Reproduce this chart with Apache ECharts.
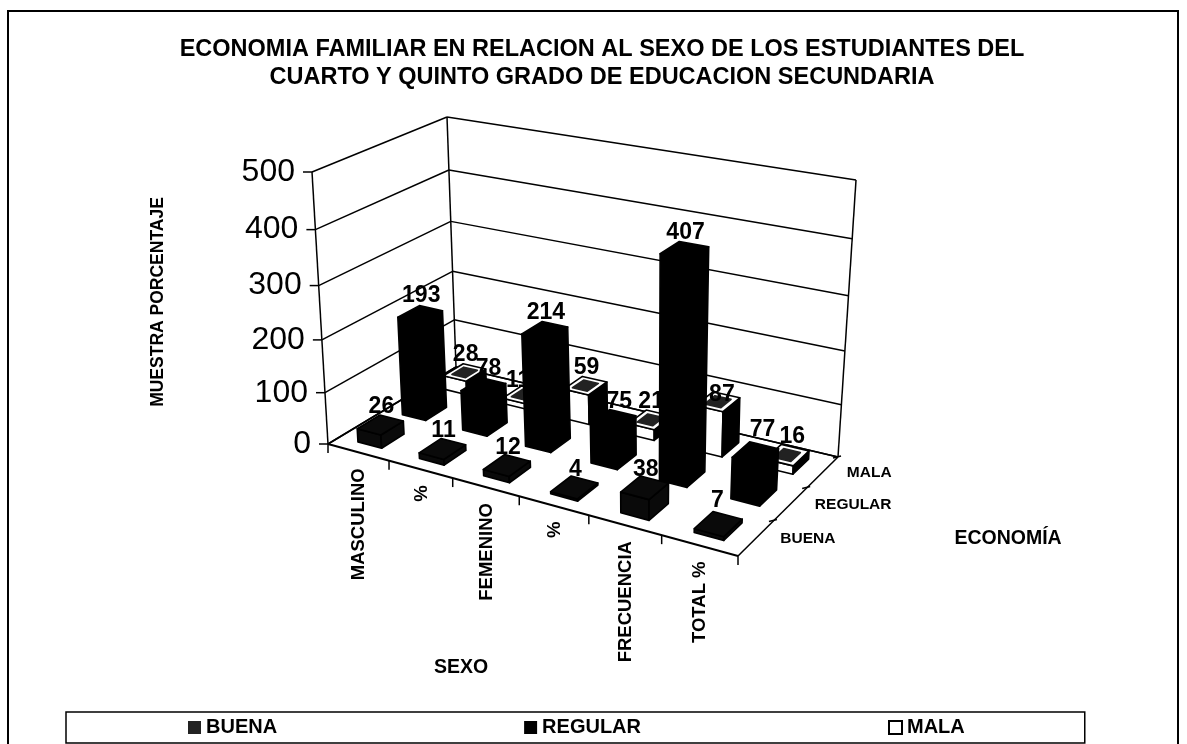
<!DOCTYPE html>
<html><head><meta charset="utf-8">
<style>html,body{margin:0;padding:0;background:#fff}#c{width:1187px;height:744px}</style>
<script src="https://cdn.jsdelivr.net/npm/echarts@6/dist/echarts.min.js"></script>
</head><body><div id="c"></div>
<script>
const categories = ['MASCULINO','%','FEMENINO','%','FRECUENCIA','TOTAL %'];
const depthNames = ['BUENA','REGULAR','MALA'];
const yTicks = [0,100,200,300,400,500];
const buena = [26,11,12,4,38,7];
const regular = [193,78,214,75,407,77];
const mala = [28,11,59,21,87,16];

// Projection of the unit box onto the page (oblique 3-D look)
const FLOOR = [[328,444],[738,556],[838,457],[456,367]];
const TOP = [[312,172],[751,257],[856,180],[447,117]];
const PERSP = 0.93, BAR_W = 0.39, BAR_D = 0.5;
const FONT = '"Liberation Sans", Arial, sans-serif';
// Small hand placement of a few data labels, by depth index and category index
const LABEL_NUDGE = {'2-4':[3,11],'1-5':[6,-5],'0-5':[-2,-5],'1-1':[4,0],'1-3':[5,0],'2-1':[-7,4],'2-5':[4,0]};

function homography(q){
  const [x0,y0]=q[0],[x1,y1]=q[1],[x2,y2]=q[2],[x3,y3]=q[3];
  const dx1=x1-x2,dx2=x3-x2,dy1=y1-y2,dy2=y3-y2,sx=x0-x1+x2-x3,sy=y0-y1+y2-y3;
  const det=dx1*dy2-dx2*dy1,g=(sx*dy2-dx2*sy)/det,h=(dx1*sy-sx*dy1)/det;
  const a=x1-x0+g*x1,b=x3-x0+h*x3,d=y1-y0+g*y1,e=y3-y0+h*y3;
  return (u,v)=>{const k=g*u+h*v+1;return [(a*u+b*v+x0)/k,(d*u+e*v+y0)/k];};
}
const hFloor=homography(FLOOR), hTop=homography(TOP);
function project(u,w,t){
  const f=hFloor(u,w),p=hTop(u,w),s=t*PERSP/(1+(PERSP-1)*t);
  return [f[0]+(p[0]-f[0])*s,f[1]+(p[1]-f[1])*s];
}
// grid pixel -> unit coordinates, so that every mark goes through the axes' scales
function unit(params,api,c,v){
  const cs=params.coordSys,pt=api.coord([c,v]);
  return {u:(pt[0]-cs.x)/cs.width,t:(cs.y+cs.height-pt[1])/cs.height,band:api.size([1,0])[0]/cs.width};
}
const line=(a,b,w)=>({type:'line',shape:{x1:a[0],y1:a[1],x2:b[0],y2:b[1]},style:{stroke:'#000',lineWidth:w||1.5}});
const quad=(pts,fill,stroke)=>({type:'polygon',shape:{points:pts},style:{fill,stroke:stroke||fill,lineWidth:1.6,lineJoin:'round'}});
const text=(s,x,y,size,o)=>Object.assign({type:'text',x,y,style:{text:s,fill:'#000',font:(o&&o.weight||'bold')+' '+size+'px '+FONT,align:o&&o.align||'center',verticalAlign:'middle'}},o&&o.rotation?{rotation:o.rotation}:{});

function renderWall(params,api){
  const val=api.value(1),{t}=unit(params,api,0,val);
  const a=project(0,0,t),b=project(0,1,t),c=project(1,1,t);
  const ch=[line(a,b),line(b,c),line(a,[a[0]-9,a[1]]),
    text(String(val),a[0]-17,a[1],32,{align:'right',weight:'normal'})];
  if(val===yTicks[yTicks.length-1]){
    ch.push(line(project(0,0,0),project(0,0,1)));
    ch.push(line(project(0,1,0),project(0,1,1)));
    ch.push(line(project(1,1,0),project(1,1,1)));
  }
  return {type:'group',children:ch};
}
function renderXAxis(params,api){
  const i=api.value(0),{u,band}=unit(params,api,i,0);
  const r=project(u+band/2,0,0),m=project(u,0,0);
  const ch=[line(r,[r[0],r[1]+9]),
    text(categories[i],m[0]+1,m[1]+16,18.5,{align:'right',rotation:Math.PI/2})];
  if(i===0){const l=project(0,0,0);ch.push(line(l,[l[0],l[1]+9]),line(l,project(1,0,0),2));}
  return {type:'group',children:ch};
}
function renderDepth(params,api){
  const j=api.value(0),w=(j+0.5)/depthNames.length;
  const e=project(1,(j+1)/depthNames.length,0),m=project(1,w,0);
  const ch=[line([e[0]-5,e[1]+1],[e[0]+3,e[1]-1]),
    text(depthNames[j],m[0]+24,m[1]+1,15.5,{align:'left'})];
  if(j===0) ch.push(line(project(1,0,0),project(1,1,0)));
  return {type:'group',children:ch};
}
function renderFloorBack(){
  return {type:'group',children:[line(project(0,0,0),project(0,1,0)),line(project(0,1,0),project(1,1,0))]};
}
function barRenderer(j,sideFill,frontFill,topFill,inner){
  return function(params,api){
    const i=api.value(0),val=api.value(1),{u,t,band}=unit(params,api,i,val);
    const w=(j+0.5)/depthNames.length,hu=band*BAR_W/2,hw=BAR_D/depthNames.length/2;
    const P=(du,dw,tt)=>project(u+du*hu,w+dw*hw,tt);
    const ch=[
      quad([P(-1,-1,0),P(1,-1,0),P(1,-1,t),P(-1,-1,t)],frontFill,'#000'),
      quad([P(1,-1,0),P(1,1,0),P(1,1,t),P(1,-1,t)],sideFill,'#000'),
      quad([P(-1,-1,t),P(1,-1,t),P(1,1,t),P(-1,1,t)],topFill,'#000')
    ];
    if(inner){const s=0.6;ch.push(quad([P(-s,-s,t),P(s,-s,t),P(s,s,t),P(-s,s,t)],'#222'));}
    const c=P(0,0,t),n=LABEL_NUDGE[j+'-'+i]||[0,0];
    ch.push(text(String(val),c[0]+1+n[0],c[1]-18+n[1],23,{}));
    return {type:'group',children:ch};
  };
}
const rows=a=>a.map((v,i)=>[i,v]);
const base={type:'custom',coordinateSystem:'cartesian2d',silent:true,animation:false,encode:{x:0,y:1}};

const option={
  animation:false,
  backgroundColor:'#fff',
  title:{text:'ECONOMIA FAMILIAR EN RELACION AL SEXO DE LOS ESTUDIANTES DEL\nCUARTO Y QUINTO GRADO DE EDUCACION SECUNDARIA',
    left:597,top:31,textAlign:'center',
    textStyle:{fontFamily:FONT,fontWeight:'bold',fontSize:23.5,color:'#000',lineHeight:27.5}},
  grid:{left:100,right:100,top:100,bottom:100,show:false},
  xAxis:{type:'category',data:categories,show:false},
  yAxis:{type:'value',min:0,max:500,interval:100,show:false},
  legend:{data:depthNames,left:66,top:712,padding:[5.5,120,5.5,122],itemGap:247,itemWidth:13,itemHeight:13,icon:'rect',
    borderColor:'#000',borderWidth:1.5,backgroundColor:'#fff',selectedMode:false,
    textStyle:{fontFamily:FONT,fontWeight:'bold',fontSize:20,color:'#000'}},
  graphic:[
    {type:'rect',shape:{x:8,y:11,width:1170,height:800},style:{fill:'none',stroke:'#000',lineWidth:2},silent:true},
    {type:'text',x:158,y:302,rotation:Math.PI/2,style:{text:'MUESTRA PORCENTAJE',font:'bold 17.5px '+FONT,fill:'#000',align:'center',verticalAlign:'middle'}},
    {type:'text',x:461,y:668,style:{text:'SEXO',font:'bold 19.5px '+FONT,fill:'#000',align:'center',verticalAlign:'middle'}},
    {type:'text',x:1008,y:539,style:{text:'ECONOMÍA',font:'bold 19.5px '+FONT,fill:'#000',align:'center',verticalAlign:'middle'}}
  ],
  series:[
    Object.assign({},base,{name:'_floor',z:1,data:[[0,0]],renderItem:renderFloorBack}),
    Object.assign({},base,{name:'_walls',z:1,data:yTicks.map(v=>[0,v]),renderItem:renderWall}),
    Object.assign({},base,{name:'_x',z:1,data:categories.map((c,i)=>[i,0]),renderItem:renderXAxis}),
    Object.assign({},base,{name:'_depth',z:1,data:depthNames.map((c,i)=>[i,0]),renderItem:renderDepth}),
    Object.assign({},base,{name:'MALA',z:2,data:rows(mala),itemStyle:{color:'#fff',borderColor:'#000',borderWidth:1.5},renderItem:barRenderer(2,'#000','#fff','#fff',true)}),
    Object.assign({},base,{name:'REGULAR',z:3,data:rows(regular),itemStyle:{color:'#000'},renderItem:barRenderer(1,'#000','#000','#000',false)}),
    Object.assign({},base,{name:'BUENA',z:4,data:rows(buena),itemStyle:{color:'#222'},renderItem:barRenderer(0,'#0a0a0a','#0a0a0a','#0a0a0a',false)})
  ]
};
echarts.init(document.getElementById('c'),null,{renderer:'canvas'}).setOption(option);
</script></body></html>
